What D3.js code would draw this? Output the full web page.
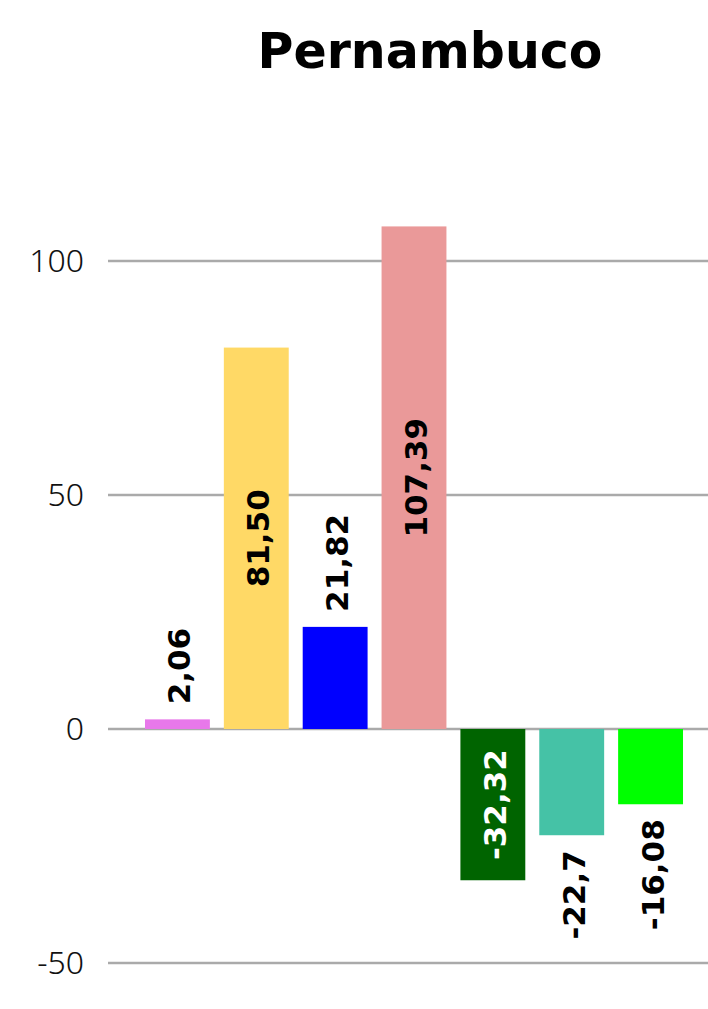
<!DOCTYPE html>
<html>
<head>
<meta charset="utf-8">
<script src="https://d3js.org/d3.v7.min.js"></script>
<style>
  body { margin: 0; background: #fff; }
  svg { display: block; }
</style>
</head>
<body>
<svg width="708" height="1009"></svg>
<script>
// chart data
const title = "Pernambuco";
const categories = ["c1", "c2", "c3", "c4", "c5", "c6", "c7"];
const values = [2.06, 81.50, 21.82, 107.39, -32.32, -22.7, -16.08];
const labels = ["2,06", "81,50", "21,82", "107,39", "-32,32", "-22,7", "-16,08"];
const colors = ["#e878ea", "#ffd966", "#0000ff", "#ea9999", "#006400", "#45c2a6", "#00ff00"];
const labelColors = ["#000", "#000", "#000", "#000", "#fff", "#000", "#000"];
const yTicks = [-50, 0, 50, 100];

var svg = d3.select("svg");

var x = d3.scaleBand().domain(categories).range([138, 690])
    .paddingInner(14 / 79).paddingOuter(0.5 * 14 / 79);
var y = d3.scaleLinear().domain([-50, 100]).range([963, 261]);

// gridlines
svg.append("g").selectAll("line").data(yTicks).enter().append("line")
    .attr("x1", 108).attr("x2", 708)
    .attr("y1", d => Math.round(y(d))).attr("y2", d => Math.round(y(d)))
    .attr("stroke", "#aaaaaa").attr("stroke-width", 2.5);

// tick labels
svg.append("g").selectAll("text").data(yTicks).enter().append("text")
    .attr("x", 84).attr("y", d => y(d))
    .attr("dy", "0.35em")
    .attr("text-anchor", "end")
    .style("font-family", "'Noto Sans', sans-serif")
    .style("font-weight", 300)
    .style("font-size", "32px")
    .style("fill", "#111")
    .text(d => d);

// bars
var data = categories.map((c, i) => ({c: c, v: values[i], label: labels[i], color: colors[i], lc: labelColors[i]}));

svg.append("g").selectAll("rect").data(data).enter().append("rect")
    .attr("x", d => x(d.c))
    .attr("width", x.bandwidth())
    .attr("y", d => Math.min(y(d.v), y(0)))
    .attr("height", d => Math.abs(y(d.v) - y(0)))
    .attr("fill", d => d.color);

// value labels (rotated)
var lab = svg.append("g").selectAll("text").data(data).enter().append("text")
    .style("font-family", "'DejaVu Sans', sans-serif")
    .style("font-weight", 700)
    .style("font-size", "31px")
    .attr("dominant-baseline", "central")
    .style("fill", d => d.lc)
    .text(d => d.label);

lab.each(function(d) {
    var len = this.getComputedTextLength();
    var h = Math.abs(y(d.v) - y(0));
    var cx = x(d.c) + x.bandwidth() / 2 + 2;
    var inside = h > len + 30;
    var cy, anchor;
    if (inside) {
        cy = (y(d.v) + y(0)) / 2;
        anchor = "middle";
    } else if (d.v >= 0) {
        cy = y(d.v) - 15;
        anchor = "start";
    } else {
        cy = y(d.v) + 15;
        anchor = "end";
    }
    d3.select(this)
        .attr("text-anchor", anchor)
        .attr("transform", "translate(" + cx + "," + cy + ") rotate(-90)");
});

// title
svg.append("text")
    .attr("x", 430).attr("y", 68)
    .attr("text-anchor", "middle")
    .style("font-family", "'DejaVu Sans', sans-serif")
    .style("font-weight", 700)
    .style("font-size", "49px")
    .text(title);
</script>
</body>
</html>
